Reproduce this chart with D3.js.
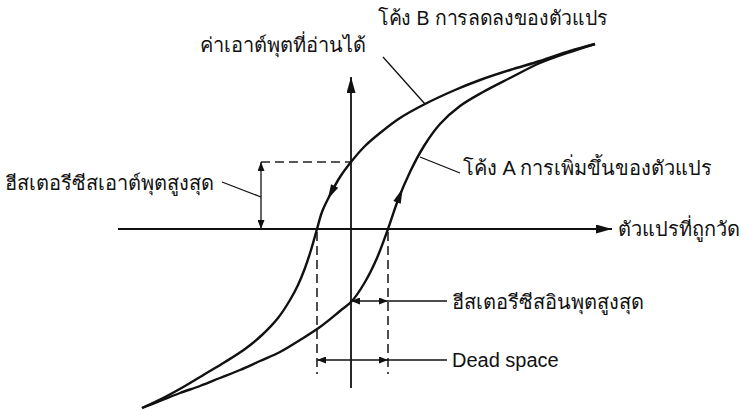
<!DOCTYPE html>
<html>
<head>
<meta charset="utf-8">
<script src="https://cdn.jsdelivr.net/npm/d3@7"></script>
<style>
  body { margin: 0; background: #fff; }
  text { font-family: "Liberation Sans", Arial, sans-serif; font-size: 20px; fill: #111; }
</style>
</head>
<body>
<div id="chart"></div>
<script>
// curve A: increasing input (measured variable units, output units)
const curveA = [[-20.9,-17.9],[-19.1,-17.2],[-17.1,-16.4],[-15.1,-15.7],[-13.1,-14.9],[-11.1,-14.1],
  [-9.1,-13.2],[-7.1,-12.3],[-5.1,-11.1],[-3.1,-9.8],[-1.1,-8.2],[0.1,-7.2],[1.4,-5.3],
  [2.6,-2.9],[3.7,0],[4.7,2.9],[5.9,5.7],[7.3,8.3],[8.9,10.5],[10.9,12.3],[13.2,13.7],
  [15.9,15.1],[18.9,16.6],[21.9,17.7],[24.4,18.5]];
// curve B: decreasing input
const curveB = [[24.4,18.5],[21.9,17.8],[18.9,16.8],[15.9,15.9],[12.9,14.9],[10.4,13.9],
  [7.4,12.5],[4.9,11.1],[2.9,9.6],[1.4,8.3],[0,6.7],[-1.1,5.2],[-2.1,3.4],[-2.9,1.7],
  [-3.4,0],[-4.0,-2.1],[-4.6,-3.9],[-5.3,-5.6],[-6.1,-7.1],[-7.3,-8.9],[-8.9,-10.6],
  [-10.6,-12.0],[-12.6,-13.3],[-14.6,-14.5],[-16.6,-15.7],[-18.6,-16.8],[-20.9,-17.9]];

const zeroB = -3.4;     // curve B crosses the x axis
const zeroA = 3.7;      // curve A crosses the x axis
const outHyst = 6.7;    // output where curve B meets the y axis
const inHystY = -7.2;   // level of the input hysteresis marker
const deadY = -13.1;    // level of the dead space marker
const xExtent = [-23.3, 26.1];
const yExtent = [-15.9, 15.2];

const labels = {
  yAxis: "ค่าเอาต์พุตที่อ่านได้",
  xAxis: "ตัวแปรที่ถูกวัด",
  curveB: "โค้ง B การลดลงของตัวแปร",
  curveA: "โค้ง A การเพิ่มขึ้นของตัวแปร",
  outHyst: "ฮีสเตอรีซีสเอาต์พุตสูงสุด",
  inHyst: "ฮีสเตอรีซีสอินพุตสูงสุด",
  dead: "Dead space"
};

const width = 741, height = 411;
const x = d3.scaleLinear().domain([-10, 10]).range([251, 451]);
const y = d3.scaleLinear().domain([-10, 10]).range([329, 129]);

const svg = d3.select("#chart").append("svg")
  .attr("width", width).attr("height", height);

const defs = svg.append("defs");
function marker(id, len, wid) {
  defs.append("marker")
    .attr("id", id)
    .attr("viewBox", `0 ${-wid} ${len} ${2 * wid}`)
    .attr("refX", len).attr("refY", 0)
    .attr("markerWidth", len).attr("markerHeight", 2 * wid)
    .attr("markerUnits", "userSpaceOnUse")
    .attr("orient", "auto-start-reverse")
    .append("path")
    .attr("d", `M0,${-wid}L${len},0L0,${wid}Z`)
    .attr("fill", "#111");
}
marker("axisArrow", 16, 4.5);
marker("dimArrow", 9, 3.5);

// axes
svg.append("line")
  .attr("x1", x(xExtent[0])).attr("x2", x(xExtent[1]))
  .attr("y1", y(0)).attr("y2", y(0))
  .attr("stroke", "#111").attr("stroke-width", 1.8)
  .attr("marker-end", "url(#axisArrow)");
svg.append("line")
  .attr("x1", x(0)).attr("x2", x(0))
  .attr("y1", y(yExtent[0])).attr("y2", y(yExtent[1]))
  .attr("stroke", "#111").attr("stroke-width", 1.8)
  .attr("marker-end", "url(#axisArrow)");

// dashed guides
const dash = "9,5";
svg.append("line")
  .attr("x1", x(-9)).attr("x2", x(0))
  .attr("y1", y(outHyst)).attr("y2", y(outHyst))
  .attr("stroke", "#222").attr("stroke-width", 1.6).attr("stroke-dasharray", dash);
[zeroB, zeroA].forEach(v => {
  svg.append("line")
    .attr("x1", x(v)).attr("x2", x(v))
    .attr("y1", y(-0.3)).attr("y2", y(-14.5))
    .attr("stroke", "#222").attr("stroke-width", 1.6).attr("stroke-dasharray", dash);
});

// curves
const line = d3.line().x(d => x(d[0])).y(d => y(d[1])).curve(d3.curveCatmullRom.alpha(0.5));
const pathA = svg.append("path").datum(curveA)
  .attr("d", line).attr("fill", "none").attr("stroke", "#111").attr("stroke-width", 2.4);
const pathB = svg.append("path").datum(curveB)
  .attr("d", line).attr("fill", "none").attr("stroke", "#111").attr("stroke-width", 2.4);

// direction arrows on the curves
function curveArrow(path, atY) {
  const node = path.node();
  const total = node.getTotalLength();
  let best = 0, bestD = Infinity;
  for (let l = 0; l <= total; l += 0.5) {
    const p = node.getPointAtLength(l);
    const d = Math.abs(p.y - y(atY));
    if (d < bestD) { bestD = d; best = l; }
  }
  const p0 = node.getPointAtLength(best - 2), p1 = node.getPointAtLength(best + 2);
  const ang = Math.atan2(p1.y - p0.y, p1.x - p0.x) * 180 / Math.PI;
  const p = node.getPointAtLength(best);
  svg.append("path")
    .attr("d", "M7,0L-8,-4L-8,4Z")
    .attr("fill", "#111")
    .attr("transform", `translate(${p.x},${p.y}) rotate(${ang})`);
}
curveArrow(pathA, 3.4);
curveArrow(pathB, 3.6);

// dimension arrows
function dim(x1, y1, x2, y2) {
  svg.append("line")
    .attr("x1", x1).attr("y1", y1).attr("x2", x2).attr("y2", y2)
    .attr("stroke", "#111").attr("stroke-width", 1.3)
    .attr("marker-start", "url(#dimArrow)").attr("marker-end", "url(#dimArrow)");
}
dim(x(-9), y(outHyst), x(-9), y(0));
dim(x(0), y(inHystY), x(zeroA), y(inHystY));
dim(x(zeroB), y(deadY), x(zeroA), y(deadY));

// leader lines
function leader(x1, y1, x2, y2) {
  svg.append("line")
    .attr("x1", x1).attr("y1", y1).attr("x2", x2).attr("y2", y2)
    .attr("stroke", "#111").attr("stroke-width", 1.3);
}
leader(x(3.2), y(17.2), x(7.4), y(12.5));
leader(x(6.9), y(7.2), x(10.9), y(5.6));
leader(x(-12.9), y(4.7), x(-9), y(3.2));
leader(x(zeroA), y(inHystY), x(9.6), y(inHystY));
leader(x(zeroA), y(deadY), x(9.6), y(deadY));

// labels
svg.append("text").attr("x", 200).attr("y", 52).text(labels.yAxis);
svg.append("text").attr("x", 378).attr("y", 25).text(labels.curveB)
  .attr("textLength", 230).attr("lengthAdjust", "spacingAndGlyphs");
svg.append("text").attr("x", 463).attr("y", 175).text(labels.curveA);
svg.append("text").attr("x", 618).attr("y", 236).text(labels.xAxis);
svg.append("text").attr("x", 5).attr("y", 190).text(labels.outHyst);
svg.append("text").attr("x", 452).attr("y", 309).text(labels.inHyst);
svg.append("text").attr("x", 452).attr("y", 367).text(labels.dead);
</script>
</body>
</html>
